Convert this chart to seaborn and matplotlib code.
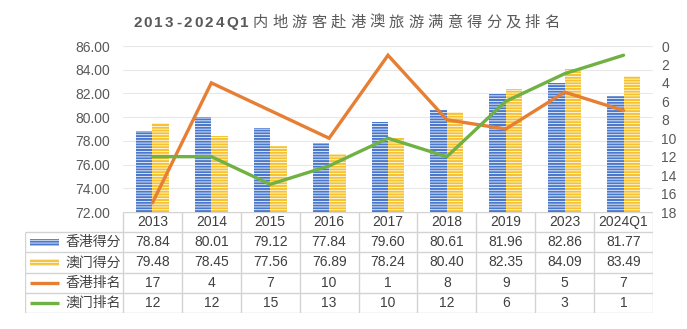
import numpy as np
import pandas as pd
import seaborn as sns
import matplotlib.pyplot as plt
from matplotlib.patches import Rectangle

years = ["2013", "2014", "2015", "2016", "2017", "2018", "2019", "2023", "2024Q1"]
hk_score = [78.84, 80.01, 79.12, 77.84, 79.60, 80.61, 81.96, 82.86, 81.77]
mo_score = [79.48, 78.45, 77.56, 76.89, 78.24, 80.40, 82.35, 84.09, 83.49]
hk_rank = [17, 4, 7, 10, 1, 8, 9, 5, 7]
mo_rank = [12, 12, 15, 13, 10, 12, 6, 3, 1]
series = ["香港得分", "澳门得分", "香港排名", "澳门排名"]

BLUE = "#4A78CC"
YELLOW = "#F6C22F"
ORANGE = "#E67E33"
GREEN = "#70B143"
TEXT = "#404040"
TICK = "#595959"
GRID = "#E8E8E8"
BORDER = "#D3D3D3"

sns.set_style("white")
plt.rcParams["font.family"] = ["Liberation Sans", "Noto Sans CJK SC"]
plt.rcParams["hatch.linewidth"] = 0.55

scores = pd.DataFrame({
    "year": years * 2,
    "score": hk_score + mo_score,
    "region": [series[0]] * len(years) + [series[1]] * len(years),
})

W, H = 687, 329
fig = plt.figure(figsize=(W / 100, H / 100), dpi=100)

# main plot area (pixels: x 123..653, y 46..212)
ax = fig.add_axes([123 / W, 1 - 212 / H, 530 / W, 166 / H])
sns.barplot(data=scores, x="year", y="score", hue="region", palette=[BLUE, YELLOW],
            saturation=1, width=0.56, gap=0, legend=False, ax=ax)
for p in ax.patches:
    p.set_hatch("------")
    p.set_edgecolor("white")
    p.set_linewidth(0)
ax.set_ylim(72, 86)
ax.set_xlim(-0.5, len(years) - 0.5)
ax.set_yticks(np.arange(72, 87, 2))
ax.yaxis.set_major_formatter("{x:.2f}")
ax.tick_params(axis="y", length=0, pad=9, labelsize=10, labelcolor=TICK)
ax.set_xticks([])
ax.set(xlabel="", ylabel="")
ax.yaxis.grid(True, color=GRID, lw=0.8)
ax.set_axisbelow(True)
sns.despine(ax=ax, left=True, bottom=True)

ax2 = ax.twinx()
pos = np.arange(len(years))
sns.lineplot(x=pos, y=hk_rank, color=ORANGE, lw=2.4, ax=ax2, solid_joinstyle="miter")
sns.lineplot(x=pos, y=mo_rank, color=GREEN, lw=2.4, ax=ax2, solid_joinstyle="miter")
ax2.set_ylim(18, 0)
ax2.set_yticks(range(0, 19, 2))
ax2.tick_params(axis="y", length=0, pad=6, labelsize=10, labelcolor=TICK)
ax2.set(xlabel="", ylabel="")
sns.despine(ax=ax2, left=True, bottom=True, right=True)

# data table below (pixels: x 25..653, y 212..313)
colw = 530 / len(years)
xl = -0.5 - (123 - 25) / colw
xr = len(years) - 0.5
tab = fig.add_axes([25 / W, 1 - 313 / H, 628 / W, 101 / H])
tab.set_xlim(xl, xr)
tab.set_ylim(5, 0)
tab.axis("off")
tab.hlines(0, -0.5, xr, color=BORDER, lw=1)
tab.hlines([1, 2, 3, 4, 5], xl, xr, color=BORDER, lw=1)
tab.vlines(np.arange(-0.5, len(years)), 0, 5, color=BORDER, lw=1)
tab.vlines(xl, 1, 5, color=BORDER, lw=1)

for i, y in enumerate(years):
    tab.text(i, 0.5, y, ha="center", va="center", fontsize=10, color=TEXT)

rows = [[f"{v:.2f}" for v in hk_score], [f"{v:.2f}" for v in mo_score],
        [str(v) for v in hk_rank], [str(v) for v in mo_rank]]
for r, vals in enumerate(rows):
    for i, v in enumerate(vals):
        tab.text(i, r + 1.5, v, ha="center", va="center", fontsize=10, color=TEXT)

sx0 = xl + 5 / colw
sx1 = xl + 34 / colw
for r, (name, c) in enumerate(zip(series, [BLUE, YELLOW, ORANGE, GREEN])):
    yc = r + 1.5
    if r < 2:
        tab.add_patch(Rectangle((sx0, yc - 0.17), sx1 - sx0, 0.34, facecolor=c,
                                edgecolor="white", lw=0, hatch="------"))
    else:
        tab.plot([sx0, sx1], [yc, yc], color=c, lw=2.4, solid_capstyle="butt")
    tab.text(xl + 40 / colw, yc, name, ha="left", va="center", fontsize=10, color=TEXT)

# letter-spaced title
title = "2013-2024Q1内地游客赴港澳旅游满意得分及排名"
prev = fig.text(133 / W, 1 - 30 / H, title[0], fontsize=11, fontweight="bold",
                color=TICK, va="bottom", ha="left")
for ch in title[1:]:
    latin = ch.isascii()
    prev = ax.annotate(ch, xy=(1, 0), xycoords=prev, xytext=(1.6 if latin else 3.0, 0),
                       textcoords="offset points", fontsize=11,
                       fontweight="bold" if latin else "normal",
                       color=TICK, va="bottom", ha="left", annotation_clip=False)

fig.savefig("out.png", dpi=100)
